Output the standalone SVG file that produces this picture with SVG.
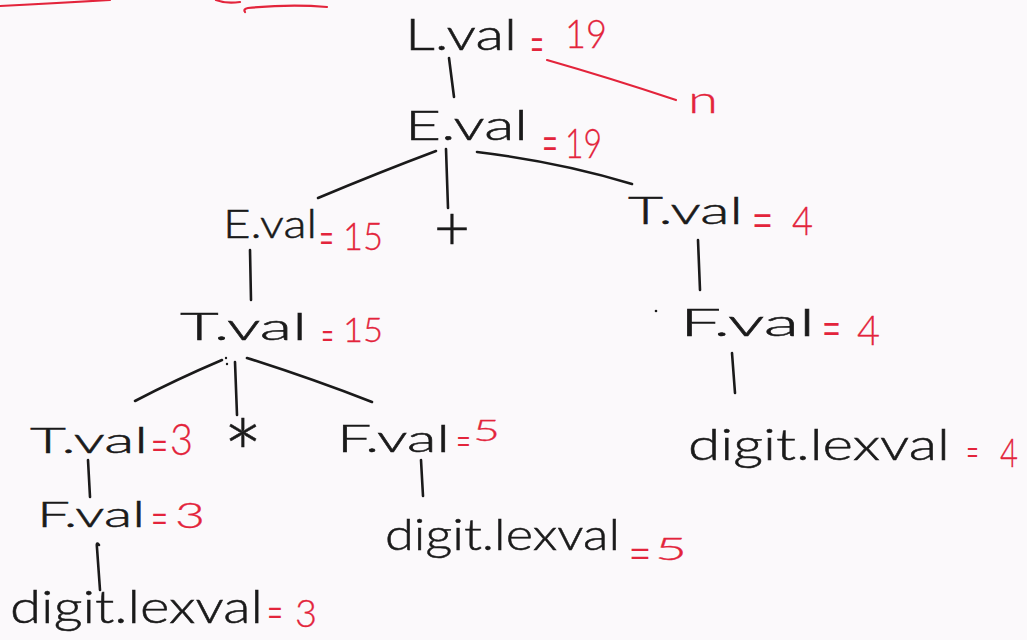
<svg xmlns="http://www.w3.org/2000/svg" width="1027" height="640" viewBox="0 0 1027 640">
  <style>
    .lbl { font-family: Lato, "Liberation Sans", sans-serif; font-weight: 300; fill: #1a1a1a; stroke: #1a1a1a; stroke-width: 0.5; }
    .val { font-family: Lato, "Liberation Sans", sans-serif; font-weight: 300; fill: #e3243b; stroke: #e3243b; stroke-width: 0.3; }
    .eq { font-family: "Liberation Sans", sans-serif; fill: #e3243b; }
    .edge { fill: none; stroke: #1a1a1a; stroke-width: 2.6; stroke-linecap: round; }
    .note { fill: none; stroke: #e3243b; stroke-width: 2.2; stroke-linecap: round; }
  </style>

  <rect width="1027" height="640" fill="#fbf9fb"/>

  <!-- red strokes running off the top edge -->
  <g id="top-marks">
    <path class="note" d="M0,6 Q60,3 110,0"/>
    <path class="note" d="M216,0 Q226,4 240,2"/>
    <path class="note" d="M245,12 Q243,9 248,8 Q290,4 327,7"/>
  </g>

  <!-- tree edges -->
  <g id="connectors">
    <path class="edge" d="M449,58 L454,97"/>
    <path class="edge" d="M436,151 Q380,172 318,198"/>
    <path class="edge" d="M446,149 L448,208"/>
    <path class="edge" d="M477,152 Q560,162 632,184"/>
    <path class="edge" d="M250,250 L251,300"/>
    <path class="edge" d="M698,240 L700,290"/>
    <path class="edge" d="M222,360 Q175,380 135,401"/>
    <path class="edge" d="M235,362 L237,415"/>
    <path class="edge" d="M247,358 Q310,378 372,402"/>
    <path class="edge" d="M732,353 L735,393"/>
    <path class="edge" d="M88,460 L90,497"/>
    <path class="edge" d="M421,460 L423,496"/>
    <path class="edge" d="M99,545 Q96,541 97,548 L100,590"/>
    <path class="note" d="M547,60 Q610,78 676,100"/>
    <circle cx="226" cy="358" r="1.2" fill="#1a1a1a"/>
    <circle cx="227" cy="364" r="1.2" fill="#1a1a1a"/>
    <circle cx="656" cy="311" r="1.3" fill="#1a1a1a"/>
  </g>

  <g id="node-L">
    <text class="lbl" x="405" y="50" font-size="44" textLength="112" lengthAdjust="spacingAndGlyphs">L.val</text>
    <text class="eq" x="531" y="57.5" font-size="38" textLength="12" lengthAdjust="spacingAndGlyphs">=</text>
    <text class="val" x="565" y="48" font-size="39" textLength="42" lengthAdjust="spacingAndGlyphs">19</text>
  </g>

  <g id="node-n">
    <text class="val" x="688" y="113" font-size="38" textLength="30" lengthAdjust="spacingAndGlyphs">n</text>
  </g>

  <g id="node-E">
    <text class="lbl" x="405" y="140" font-size="42" textLength="123" lengthAdjust="spacingAndGlyphs">E.val</text>
    <text class="eq" x="543" y="156.5" font-size="38" textLength="14" lengthAdjust="spacingAndGlyphs">=</text>
    <text class="val" x="565" y="158" font-size="41" textLength="37" lengthAdjust="spacingAndGlyphs">19</text>
  </g>

  <g id="node-E15">
    <text class="lbl" x="223" y="238" font-size="40" textLength="94" lengthAdjust="spacingAndGlyphs">E.val</text>
    <text class="eq" x="320" y="250" font-size="34" textLength="13" lengthAdjust="spacingAndGlyphs">=</text>
    <text class="val" x="343" y="250" font-size="38" textLength="40" lengthAdjust="spacingAndGlyphs">15</text>
  </g>

  <g id="node-plus">
    <text class="lbl" x="452" y="249" font-size="62" text-anchor="middle">+</text>
  </g>

  <g id="node-T4">
    <text class="lbl" x="628" y="224" font-size="38" textLength="115" lengthAdjust="spacingAndGlyphs">T.val</text>
    <text class="eq" x="753" y="233.5" font-size="38" textLength="19" lengthAdjust="spacingAndGlyphs">=</text>
    <text class="val" x="792" y="235" font-size="40" textLength="21" lengthAdjust="spacingAndGlyphs">4</text>
  </g>

  <g id="node-T15">
    <text class="lbl" x="180" y="340" font-size="38" textLength="127" lengthAdjust="spacingAndGlyphs">T.val</text>
    <text class="eq" x="322" y="346" font-size="30" textLength="11" lengthAdjust="spacingAndGlyphs">=</text>
    <text class="val" x="343" y="342" font-size="33" textLength="40" lengthAdjust="spacingAndGlyphs">15</text>
  </g>

  <g id="node-F4">
    <text class="lbl" x="680" y="336" font-size="38" textLength="135" lengthAdjust="spacingAndGlyphs">F.val</text>
    <text class="eq" x="823" y="341" font-size="36" textLength="17" lengthAdjust="spacingAndGlyphs">=</text>
    <text class="val" x="857" y="345" font-size="42" textLength="23" lengthAdjust="spacingAndGlyphs">4</text>
  </g>

  <g id="node-T3">
    <text class="lbl" x="30" y="453" font-size="36" textLength="118" lengthAdjust="spacingAndGlyphs">T.val</text>
    <text class="eq" x="152" y="455.5" font-size="32" textLength="15" lengthAdjust="spacingAndGlyphs">=</text>
    <text class="val" x="170" y="455" font-size="44" textLength="23" lengthAdjust="spacingAndGlyphs">3</text>
  </g>

  <g id="node-star">
    <text class="lbl" x="243" y="490" font-size="96" text-anchor="middle">*</text>
  </g>

  <g id="node-F5">
    <text class="lbl" x="337" y="452" font-size="38" textLength="113" lengthAdjust="spacingAndGlyphs">F.val</text>
    <text class="eq" x="457" y="451" font-size="28" textLength="13" lengthAdjust="spacingAndGlyphs">=</text>
    <text class="val" x="473" y="441" font-size="30" textLength="27" lengthAdjust="spacingAndGlyphs">5</text>
  </g>

  <g id="node-F3">
    <text class="lbl" x="37" y="527" font-size="36" textLength="108" lengthAdjust="spacingAndGlyphs">F.val</text>
    <text class="eq" x="152" y="528.5" font-size="32" textLength="15" lengthAdjust="spacingAndGlyphs">=</text>
    <text class="val" x="175" y="528" font-size="35" textLength="30" lengthAdjust="spacingAndGlyphs">3</text>
  </g>

  <g id="node-digit3">
    <text class="lbl" x="10" y="623" font-size="46" textLength="253" lengthAdjust="spacingAndGlyphs">digit.lexval</text>
    <text class="eq" x="268" y="622.5" font-size="32" textLength="14" lengthAdjust="spacingAndGlyphs">=</text>
    <text class="val" x="295" y="627" font-size="38" textLength="22" lengthAdjust="spacingAndGlyphs">3</text>
  </g>

  <g id="node-digit5">
    <text class="lbl" x="385" y="550" font-size="44" textLength="235" lengthAdjust="spacingAndGlyphs">digit.lexval</text>
    <text class="eq" x="630" y="563.5" font-size="32" textLength="20" lengthAdjust="spacingAndGlyphs">=</text>
    <text class="val" x="655" y="560" font-size="32" textLength="32" lengthAdjust="spacingAndGlyphs">5</text>
  </g>

  <g id="node-digit4">
    <text class="lbl" x="688" y="460" font-size="44" textLength="262" lengthAdjust="spacingAndGlyphs">digit.lexval</text>
    <text class="eq" x="967" y="462" font-size="28" textLength="11" lengthAdjust="spacingAndGlyphs">=</text>
    <text class="val" x="1000" y="467" font-size="40" textLength="18" lengthAdjust="spacingAndGlyphs">4</text>
  </g>
</svg>
